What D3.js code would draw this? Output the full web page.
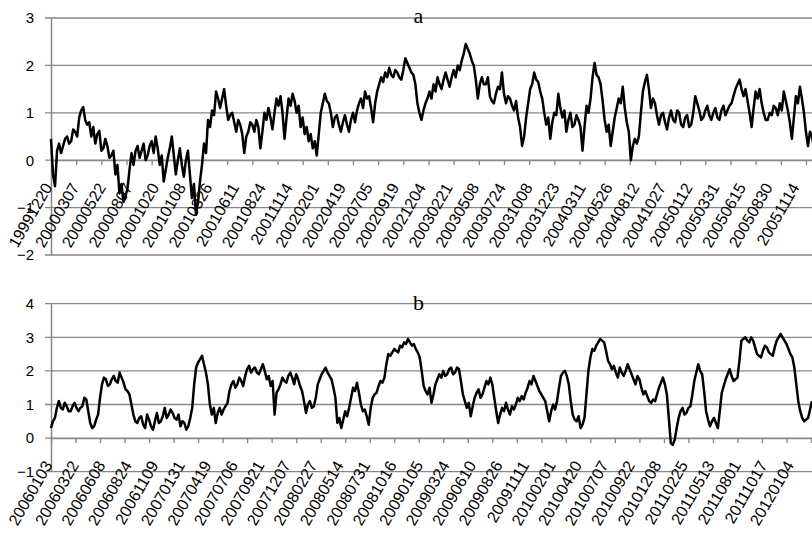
<!DOCTYPE html>
<html>
<head>
<meta charset="utf-8">
<script src="https://cdn.jsdelivr.net/npm/d3@7"></script>
<style>
  body { margin: 0; background: #fff; }
</style>
</head>
<body>
<div id="chart"></div>
<script>
// category labels (every 53rd / 54th trading day)
const labelsA = ["19991220","20000307","20000522","20000807","20001020","20010108","20010326",
  "20010611","20010824","20011114","20020201","20020419","20020705","20020919","20021204",
  "20030221","20030508","20030724","20031008","20031223","20040311","20040526","20040812",
  "20041027","20050112","20050331","20050615","20050830","20051114"];
const labelsB = ["20060103","20060322","20060608","20060824","20061109","20070131","20070419",
  "20070706","20070921","20071207","20080227","20080514","20080731","20081016","20090105",
  "20090324","20090610","20090826","20091111","20100201","20100420","20100707","20100922",
  "20101208","20110225","20110513","20110801","20111017","20120104"];

// series values, one reading every 4 trading days
const valuesA = [
  0.45,-0.3, -0.55,0.2, 0.35,0.15, 0.3,0.45, 0.5,0.35,
  0.4,0.65, 0.6,0.5, 0.9,1.05, 1.12,0.85, 0.75,0.8,
  0.5,0.7, 0.35,0.55, 0.62,0.2, 0.25,0.45, 0.3,0.05,
  0.1,0.2, -0.3,-0.1, -0.7,-0.5, -0.88,-0.75, -0.6,-0.2,
  0.15,-0.1, 0.2,0.3, 0.05,0.2, 0.35,0.0, 0.1,0.3,
  0.4,0.15, 0.5,0.25, -0.1,0.1, -0.45,-0.2, 0.05,0.25,
  0.5,0.1, -0.3,0.0, 0.25,-0.1, -0.35,0.0, 0.2,-0.3,
  -0.8,-0.5, -1.15,-0.9, -0.45,-0.1, 0.35,0.15, 0.85,0.7,
  1.05,0.95, 1.45,1.3, 1.1,1.3, 1.5,1.15, 0.85,0.95,
  1.0,0.8, 0.6,0.85, 0.75,0.55, 0.15,0.5, 0.6,0.8,
  0.75,0.6, 0.85,0.7, 0.25,0.6, 1.0,0.85, 1.1,0.9,
  0.65,1.0, 1.3,1.15, 1.35,1.0, 0.45,0.9, 1.3,1.15,
  1.4,1.25, 1.0,1.15, 0.7,0.9, 0.55,0.7, 0.4,0.55,
  0.25,0.4, 0.1,0.55, 1.0,1.2, 1.4,1.25, 1.2,1.0,
  0.7,0.9, 0.95,0.75, 0.6,0.8, 0.95,0.75, 0.6,0.85,
  1.0,0.8, 1.05,1.2, 1.3,1.1, 1.45,1.3, 1.35,1.1,
  0.8,1.2, 1.45,1.6, 1.75,1.65, 1.85,1.75, 1.95,1.8,
  1.75,1.9, 1.85,1.75, 1.7,1.9, 2.15,2.05, 1.95,1.85,
  1.8,1.6, 1.2,1.0, 0.85,1.05, 1.2,1.3, 1.45,1.3,
  1.6,1.45, 1.75,1.6, 1.5,1.7, 1.85,1.7, 1.55,1.75,
  1.9,1.75, 2.0,1.9, 2.1,2.25, 2.45,2.35, 2.25,2.1,
  2.0,1.7, 1.3,1.6, 1.75,1.6, 1.6,1.75, 1.35,1.25,
  1.2,1.4, 1.55,1.5, 1.85,1.4, 1.2,1.35, 1.3,1.15,
  1.05,1.25, 0.9,0.7, 0.3,0.5, 0.9,1.2, 1.5,1.6,
  1.85,1.7, 1.65,1.45, 1.3,1.0, 0.75,0.9, 0.45,0.8,
  1.0,0.95, 1.4,1.1, 0.9,1.05, 0.6,0.85, 1.0,0.7,
  0.75,0.95, 0.85,0.7, 0.2,0.7, 1.15,1.0, 1.3,1.75,
  2.05,1.8, 1.75,1.6, 1.25,0.85, 0.6,0.75, 0.3,0.6,
  0.9,1.1, 1.3,1.2, 1.55,1.1, 0.8,0.6, 0.0,0.3,
  0.45,0.35, 0.5,1.0, 1.45,1.65, 1.8,1.5, 1.1,1.3,
  1.2,0.95, 0.75,0.95, 1.0,0.8, 0.65,0.9, 1.05,0.85,
  0.8,1.05, 1.0,0.75, 0.7,0.9, 0.95,0.7, 0.75,1.0,
  1.35,1.2, 1.05,0.85, 0.9,1.05, 1.15,0.95, 0.85,1.0,
  1.1,0.9, 0.85,1.05, 1.15,0.95, 1.05,1.15, 1.2,1.35,
  1.5,1.6, 1.7,1.5, 1.35,1.5, 1.25,1.0, 0.7,1.1,
  1.45,1.3, 1.5,1.2, 1.0,0.85, 0.85,1.0, 0.95,1.15,
  1.1,0.95, 1.2,1.05, 1.45,1.25, 1.05,0.8, 0.45,0.9,
  1.35,1.2, 1.55,1.3, 1.0,0.6, 0.3,0.6, 0.5,0.25,
  0.15];
const valuesB = [
  0.3,0.5, 0.6,0.9, 1.1,0.9, 0.85,1.05, 0.95,0.8,
  0.8,0.95, 1.05,0.9, 0.8,0.9, 0.95,1.2, 1.15,0.8,
  0.45,0.3, 0.35,0.55, 0.7,1.2, 1.6,1.8, 1.75,1.55,
  1.6,1.75, 1.85,1.7, 1.65,1.95, 1.8,1.65, 1.45,1.4,
  1.3,1.0, 0.7,0.5, 0.45,0.6, 0.65,0.4, 0.3,0.7,
  0.55,0.35, 0.25,0.5, 0.75,0.45, 0.5,0.65, 0.9,0.6,
  0.7,0.85, 0.75,0.6, 0.55,0.7, 0.35,0.5, 0.45,0.25,
  0.35,0.6, 0.9,1.6, 2.1,2.25, 2.35,2.45, 2.2,1.95,
  1.6,1.0, 0.7,0.9, 0.45,0.75, 0.9,0.7, 0.85,0.95,
  1.05,1.4, 1.6,1.7, 1.5,1.6, 1.8,1.7, 1.55,1.85,
  2.05,2.15, 1.95,2.05, 2.1,1.95, 1.9,2.05, 2.2,2.0,
  1.75,1.85, 1.55,1.7, 0.7,1.35, 1.45,1.6, 1.8,1.7,
  1.65,1.85, 1.95,1.8, 1.6,1.9, 1.75,1.55, 1.4,1.1,
  0.75,1.0, 1.1,0.9, 0.95,1.2, 1.6,1.75, 1.9,2.0,
  2.1,1.95, 1.85,1.75, 1.5,1.2, 0.45,0.6, 0.3,0.55,
  0.8,0.65, 0.9,1.2, 1.5,1.4, 1.65,1.35, 1.0,0.8,
  0.85,0.65, 0.4,0.9, 1.2,1.3, 1.35,1.55, 1.7,1.65,
  1.8,2.2, 2.5,2.45, 2.55,2.65, 2.6,2.55, 2.75,2.7,
  2.85,2.8, 2.95,2.85, 2.75,2.8, 2.65,2.55, 2.4,2.0,
  1.55,1.4, 1.3,1.5, 1.05,1.3, 1.6,1.75, 1.9,1.8,
  2.0,1.85, 1.9,2.05, 2.1,1.9, 1.95,2.1, 2.05,1.7,
  1.3,1.1, 0.9,1.05, 0.65,0.95, 1.2,1.35, 1.45,1.2,
  1.3,1.5, 1.7,1.6, 1.8,1.6, 1.2,0.8, 0.45,0.7,
  0.9,0.8, 1.05,0.85, 0.7,0.95, 0.85,1.0, 1.2,1.1,
  1.25,1.15, 1.35,1.5, 1.7,1.6, 1.85,1.7, 1.55,1.4,
  1.3,1.2, 1.1,0.8, 0.5,0.8, 1.0,0.85, 1.1,1.5,
  1.85,1.95, 2.0,1.85, 1.6,1.1, 0.7,0.55, 0.5,0.65,
  0.3,0.4, 0.6,1.3, 2.0,2.4, 2.65,2.6, 2.75,2.85,
  2.95,2.9, 2.85,2.6, 2.3,2.2, 2.05,2.15, 1.95,1.8,
  2.1,1.95, 1.85,2.0, 2.2,2.05, 1.9,1.75, 1.6,1.85,
  1.75,1.5, 1.3,1.4, 1.25,1.1, 1.05,1.15, 1.1,1.3,
  1.5,1.65, 1.8,1.6, 1.3,0.6, -0.15,-0.2, -0.05,0.3,
  0.6,0.8, 0.9,0.7, 0.75,0.9, 0.95,1.3, 1.7,1.95,
  2.2,2.0, 1.9,1.4, 0.8,0.55, 0.35,0.5, 0.6,0.45,
  0.3,0.8, 1.35,1.55, 1.75,1.9, 2.05,1.85, 1.7,1.75,
  1.8,2.3, 2.9,2.95, 3.0,2.9, 2.85,3.0, 2.9,2.7,
  2.5,2.45, 2.4,2.6, 2.75,2.7, 2.55,2.5, 2.45,2.7,
  2.9,3.0, 3.1,3.0, 2.9,2.8, 2.65,2.5, 2.4,2.1,
  1.6,1.1, 0.8,0.6, 0.5,0.55, 0.6,0.85,
  1.1];

const yTicksA = [-2, -1, 0, 1, 2, 3];
const yTicksB = [-1, 0, 1, 2, 3, 4];

let w = 812;
let h = 534;
let left = 51;
let gridColor = "#868686";

let svg = d3.select("#chart")
    .append("svg")
    .attr("width", w)
    .attr("height", h)
    .style("background-color", "#fff");

function drawPanel(p) {
    const x = d3.scaleLinear().domain([0, p.days]).range([left, w]);
    const y = d3.scaleLinear().domain(d3.extent(p.yTicks)).range([p.bottom, p.top]);
    const g = svg.append("g");

    // horizontal gridlines
    g.append("g")
        .selectAll("line")
        .data(p.yTicks)
        .enter()
        .append("line")
        .attr("x1", left - 6)
        .attr("x2", w)
        .attr("y1", d => y(d))
        .attr("y2", d => y(d))
        .attr("stroke", gridColor)
        .attr("stroke-width", 1.3);

    // value axis
    const yAxis = g.append("g")
        .attr("transform", `translate(${left},0)`)
        .call(d3.axisLeft(y).tickValues(p.yTicks).tickSize(0).tickPadding(17).tickFormat(d3.format("d")));
    yAxis.select(".domain").attr("stroke", gridColor).attr("stroke-width", 1.5);
    yAxis.selectAll("text")
        .attr("font-family", "Liberation Sans, Arial, sans-serif")
        .attr("font-size", 15)
        .attr("fill", "#000");

    // category axis crossing at zero
    const y0 = y(0);
    const xAxis = g.append("g")
        .attr("transform", `translate(0,${y0})`)
        .call(d3.axisBottom(x).tickValues(d3.range(0, p.days + 1, p.tickStep)).tickSize(5).tickSizeOuter(0).tickFormat(""));
    xAxis.select(".domain").attr("stroke", gridColor).attr("stroke-width", 1.3);
    xAxis.selectAll(".tick line").attr("stroke", gridColor).attr("stroke-width", 1.3);

    g.append("g")
        .selectAll("text")
        .data(p.labels)
        .enter()
        .append("text")
        .attr("transform", (d, i) => `translate(${x(i * p.labelStep) + 2},${y0 + 27}) rotate(-60)`)
        .attr("text-anchor", "end")
        .attr("font-family", "Liberation Sans, Arial, sans-serif")
        .attr("font-size", 16)
        .attr("fill", "#000")
        .text(d => d);

    // the series
    const line = d3.line()
        .x((d, i) => x(i * p.sampleStep))
        .y(d => y(d));
    g.append("path")
        .datum(p.values)
        .attr("d", line)
        .attr("fill", "none")
        .attr("stroke", "#000")
        .attr("stroke-width", 2.5)
        .attr("stroke-linejoin", "round");

    // panel title
    g.append("text")
        .attr("x", 418.5)
        .attr("y", p.titleY)
        .attr("text-anchor", "middle")
        .attr("font-family", "Liberation Serif, Times New Roman, serif")
        .attr("font-size", 22)
        .attr("fill", "#000")
        .text(p.title);
}

drawPanel({ title: "a", titleY: 23, values: valuesA, labels: labelsA, yTicks: yTicksA,
    top: 18, bottom: 255, days: 1512, sampleStep: 4, tickStep: 50, labelStep: 53 });
drawPanel({ title: "b", titleY: 310, values: valuesB, labels: labelsB, yTicks: yTicksB,
    top: 303.7, bottom: 471.7, days: 1552, sampleStep: 4, tickStep: 50, labelStep: 54 });
</script>
</body>
</html>
